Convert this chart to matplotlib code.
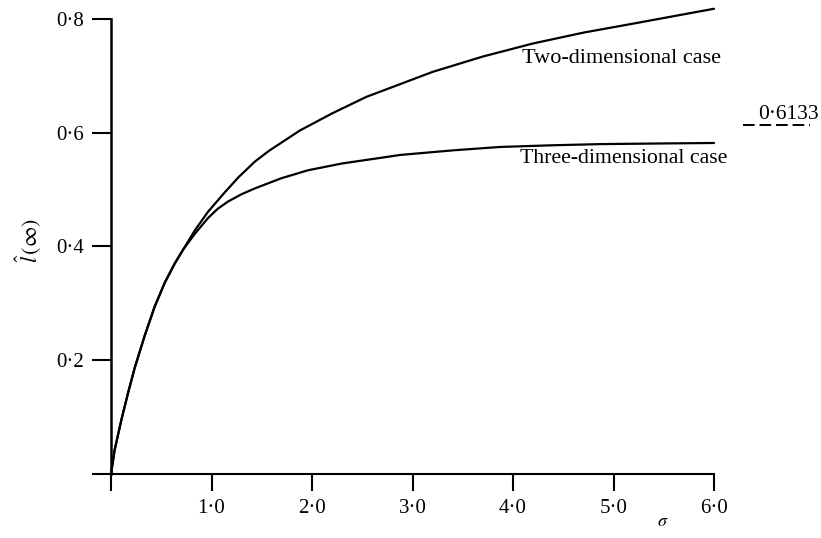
import matplotlib
matplotlib.use("Agg")
import matplotlib.pyplot as plt

# growth of l-hat(infinity) with sigma, read at points along each curve
sigma_2d = [0.0, 0.036, 0.103, 0.169, 0.235, 0.335, 0.434, 0.534, 0.634, 0.716,
            0.833, 0.965, 1.131, 1.27, 1.43, 1.57, 1.88, 2.2, 2.54, 2.9, 3.2,
            3.7, 4.2, 4.7, 5.2, 5.6, 6.0]
l_2d = [0.0, 0.042, 0.095, 0.142, 0.186, 0.243, 0.294, 0.336, 0.370, 0.394,
        0.428, 0.461, 0.495, 0.522, 0.549, 0.568, 0.604, 0.634, 0.663, 0.687, 0.707,
        0.734, 0.757, 0.776, 0.792, 0.805, 0.818]

sigma_3d = [0.0, 0.036, 0.103, 0.169, 0.235, 0.335, 0.434, 0.534, 0.634, 0.716,
            0.833, 0.965, 1.06, 1.164, 1.3, 1.43, 1.695, 1.96, 2.3, 2.65, 2.88, 3.4,
            3.87, 4.4, 4.87, 5.4, 6.0]
l_3d = [0.0, 0.042, 0.095, 0.142, 0.186, 0.243, 0.294, 0.336, 0.370, 0.394,
        0.422, 0.450, 0.466, 0.479, 0.492, 0.502, 0.520, 0.534, 0.546, 0.555, 0.561,
        0.569, 0.575, 0.578, 0.580, 0.581, 0.582]

asymptote_3d = 0.6133

x_ticks = [0, 1, 2, 3, 4, 5, 6]
x_labels = ["", "1\u00b70", "2\u00b70", "3\u00b70", "4\u00b70", "5\u00b70", "6\u00b70"]
y_ticks = [0.0, 0.2, 0.4, 0.6, 0.8]
y_labels = ["", "0\u00b72", "0\u00b74", "0\u00b76", "0\u00b78"]

plt.rcParams["font.family"] = ["Liberation Serif", "DejaVu Serif"]
plt.rcParams["mathtext.fontset"] = "stix"

fig = plt.figure(figsize=(8.21, 5.38), dpi=100)
ax = fig.add_axes([0.1352, 0.119, 0.7345, 0.8457])
ax.set_xlim(0, 6)
ax.set_ylim(0, 0.8)

ax.plot(sigma_2d, l_2d, color="black", lw=1.6, clip_on=False, solid_capstyle="round")
ax.plot(sigma_3d, l_3d, color="black", lw=1.6, clip_on=False, solid_capstyle="round")

for s in ax.spines.values():
    s.set_visible(False)
# axis lines drawn by hand
ax.plot([0, 6], [0, 0], color="black", lw=1.5, clip_on=False)
ax.plot([0, 0], [0, 0.8], color="black", lw=1.8, clip_on=False)

ax.set_xticks(x_ticks)
ax.set_xticklabels(x_labels)
ax.set_yticks(y_ticks)
ax.set_yticklabels(y_labels)
ax.tick_params(axis="x", direction="out", length=12, width=1.5, pad=6, labelsize=15)
ax.tick_params(axis="y", direction="out", length=13.5, width=1.5, pad=6, labelsize=15)

ax.text(-0.83, 0.41, r"$\hat{l}\,(\infty)$", rotation=90, ha="center", va="center",
        fontsize=16)
ax.text(5.49, -0.084, r"$\sigma$", ha="center", va="center", fontsize=13)

ax.text(4.09, 0.731, "Two-dimensional case", ha="left", va="center", fontsize=16)
ax.text(4.07, 0.555, "Three-dimensional case", ha="left", va="center", fontsize=15.7)

# limiting value for the three-dimensional case
ax.plot([6.29, 6.95], [asymptote_3d, asymptote_3d], color="black", lw=1.4,
        linestyle=(0, (6, 2.5)), clip_on=False)
ax.text(6.44, asymptote_3d + 0.018, "0\u00b76133", ha="left", va="center", fontsize=15.5)

fig.savefig("out.png", dpi=100)
